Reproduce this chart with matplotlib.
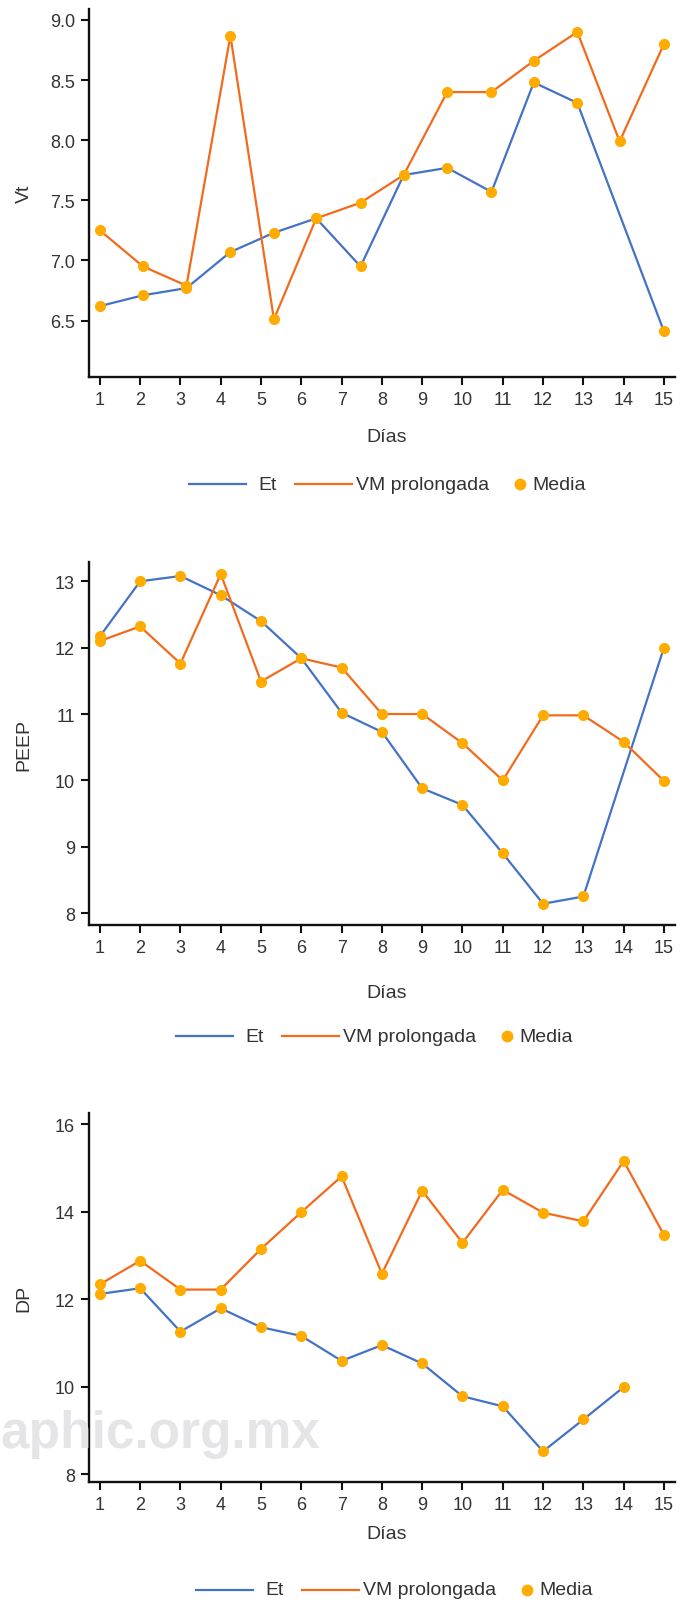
import matplotlib
matplotlib.use("Agg")
import matplotlib.pyplot as plt
from matplotlib.lines import Line2D
from matplotlib import font_manager

plt.rcParams['font.family'] = ['Liberation Sans', 'DejaVu Sans']

# --- datos ---
# Vt: los puntos van espaciados a lo largo de los 15 dias (14 medidas)
dias_vt = [1.0, 2.07, 3.15, 4.24, 5.32, 6.37, 7.47, 8.54, 9.62, 10.72, 11.77, 12.85, 13.9, 15.0]
vt_vm = [7.25, 6.95, 6.79, 8.87, 6.51, 7.35, 7.48, 7.71, 8.40, 8.40, 8.66, 8.90, 7.99, 8.80]
dias_vt_et = [1.0, 2.07, 3.15, 4.24, 5.32, 6.37, 7.47, 8.54, 9.62, 10.72, 11.77, 12.85, 15.0]
vt_et = [6.62, 6.71, 6.77, 7.07, 7.23, 7.35, 6.95, 7.71, 7.77, 7.57, 8.48, 8.31, 6.41]

dias = list(range(1, 16))
peep_vm = [12.10, 12.32, 11.76, 13.11, 11.49, 11.84, 11.70, 11.0, 11.0, 10.56, 10.0, 10.98, 10.98, 10.58, 9.99]
dias_peep_et = [1, 2, 3, 4, 5, 6, 7, 8, 9, 10, 11, 12, 13, 15]
peep_et = [12.17, 13.0, 13.08, 12.79, 12.40, 11.84, 11.02, 10.73, 9.88, 9.63, 8.90, 8.14, 8.25, 12.0]

dp_vm = [12.34, 12.88, 12.22, 12.22, 13.15, 13.99, 14.81, 12.58, 14.48, 13.29, 14.50, 13.98, 13.78, 15.16, 13.47]
dias_dp_et = list(range(1, 15))
dp_et = [12.12, 12.25, 11.26, 11.79, 11.36, 11.16, 10.59, 10.95, 10.53, 9.78, 9.55, 8.52, 9.25, 9.99]

etiquetas = ['Et', 'VM prolongada', 'Media']

AZUL = '#4472C4'
NARANJA = '#F26B1D'
MEDIA = '#FFAB00'
TXT = '#333333'

W, H = 686, 1606
fig = plt.figure(figsize=(W / 100, H / 100), dpi=100)


def fx(px):
    return px / W


def fy(py):
    return 1 - py / H


def leyenda(x0, y):
    # leyenda dibujada a mano para copiar el espaciado del original
    fig.add_artist(Line2D([fx(x0), fx(x0 + 57)], [fy(y), fy(y)], color=AZUL, lw=1.6,
                          transform=fig.transFigure))
    fig.text(fx(x0 + 69), fy(y), etiquetas[0], ha='left', va='center', fontsize=14, color=TXT)
    fig.add_artist(Line2D([fx(x0 + 106), fx(x0 + 163)], [fy(y), fy(y)], color=NARANJA, lw=1.6,
                          transform=fig.transFigure))
    fig.text(fx(x0 + 167), fy(y), etiquetas[1], ha='left', va='center', fontsize=14, color=TXT)
    fig.add_artist(Line2D([fx(x0 + 331)], [fy(y)], ls='none', marker='o', ms=8.5, mec='none',
                          color=MEDIA, transform=fig.transFigure))
    fig.text(fx(x0 + 343), fy(y), etiquetas[2], ha='left', va='center', fontsize=14, color=TXT)


paneles = [
    # (posicion, x_et, y_et, x_vm, y_vm, ylabel, ylim, yticks, yfmt, y_dias, x_leg, y_leg)
    ([0.1297, 0.7646, 0.854, 0.2291], dias_vt_et, vt_et, dias_vt, vt_vm, 'Vt', (6.03, 9.09),
     [6.5, 7.0, 7.5, 8.0, 8.5, 9.0], '%.1f', 437, 189, 485),
    ([0.1297, 0.4234, 0.854, 0.2260], dias_peep_et, peep_et, dias, peep_vm, 'PEEP', (7.82, 13.29),
     [8, 9, 10, 11, 12, 13], '%d', 994, 176, 1037),
    ([0.1297, 0.0766, 0.854, 0.2298], dias_dp_et, dp_et, dias, dp_vm, 'DP', (7.82, 16.26),
     [8, 10, 12, 14, 16], '%d', 1535, 196, 1591),
]

# marca de agua (detras de todo)
nombres = {f.name for f in font_manager.fontManager.ttflist}
if 'Liberation Sans Narrow' in nombres:
    fig.text(0, fy(1448), 'aphic.org.mx', fontsize=44, fontweight='bold', color='#e5e5e7',
             family='Liberation Sans Narrow', ha='left', va='baseline', zorder=0)
else:
    fig.text(0, fy(1448), 'aphic.org.mx', fontsize=37, fontweight='bold', color='#e5e5e7',
             ha='left', va='baseline', zorder=0)

for pos, xe, ye, xv, yv, ylab, ylim, yt, fmt, y_dias, x_leg, y_leg in paneles:
    ax = fig.add_axes(pos)
    ax.plot(xe, ye, color=AZUL, lw=1.6, zorder=2)
    ax.plot(xv, yv, color=NARANJA, lw=1.6, zorder=2)
    ax.plot(xe, ye, 'o', color=MEDIA, ms=8, mec='none', zorder=3)
    ax.plot(xv, yv, 'o', color=MEDIA, ms=8, mec='none', zorder=3)
    ax.set_xlim(0.73, 15.27)
    ax.set_ylim(*ylim)
    ax.set_xticks(dias)
    ax.set_yticks(yt)
    ax.set_yticklabels([fmt % v for v in yt])
    for s in ['top', 'right']:
        ax.spines[s].set_visible(False)
    for s in ['left', 'bottom']:
        ax.spines[s].set_linewidth(1.7)
        ax.spines[s].set_color('#111111')
    ax.tick_params(direction='out', length=5.5, width=1.5, color='#111111',
                   labelsize=13, labelcolor=TXT, pad=4.5)
    ax.set_facecolor('none')
    fig.text(fx(24), pos[1] + pos[3] / 2, ylab, rotation=90, ha='center', va='center',
             fontsize=14, color=TXT)
    fig.text(fx(387), fy(y_dias), 'Días', ha='center', va='center', fontsize=14, color=TXT)
    leyenda(x_leg, y_leg)

fig.savefig('out.png', dpi=100)
